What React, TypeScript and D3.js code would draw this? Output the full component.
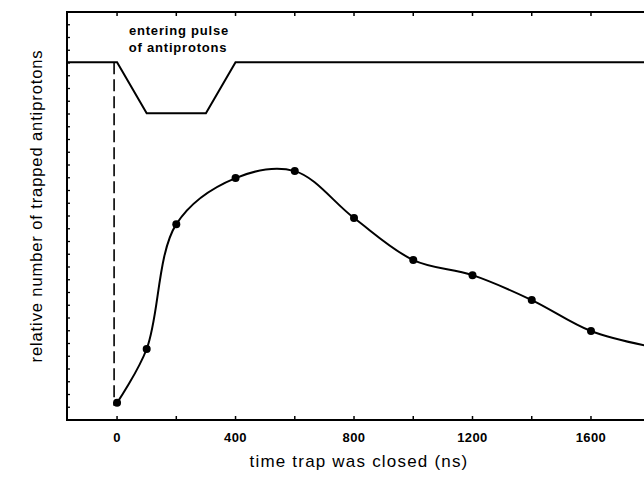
import React from 'react';
import * as d3 from 'd3';

// measured points: time the trap was closed (ns) vs relative number trapped
const closeTimes = [0, 100, 200, 400, 600, 800, 1000, 1200, 1400, 1600];
const trapped = [4.2, 17.4, 48.0, 59.3, 61.0, 49.5, 39.2, 35.5, 29.4, 21.8];
// smooth curve continues past last point
const tailTimes = [1800];
const tailValues = [18.0];

// entering antiproton pulse shape (drawn on same axes)
const pulseTimes = [-170, 0, 100, 300, 400, 1800];
const pulseValues = [87.7, 87.7, 75.2, 75.2, 87.7, 87.7];

const xTickValues = [0, 200, 400, 600, 800, 1000, 1200, 1400, 1600];
const xTickLabels = ['0', '', '400', '', '800', '', '1200', '', '1600'];

const W = 644;
const H = 483;
const left = 67;
const top = 12;
const bottom = 420;

const App: React.FC = () => {
  const x = d3.scaleLinear().domain([-169, 1779]).range([left, W]);
  const y = d3.scaleLinear().domain([0, 100]).range([bottom, top]);

  const curvePts: [number, number][] = closeTimes
    .map((t, i) => [t, trapped[i]] as [number, number])
    .concat(tailTimes.map((t, i) => [t, tailValues[i]] as [number, number]));

  const line = d3.line<[number, number]>()
    .x(d => x(d[0]))
    .y(d => y(d[1]))
    .curve(d3.curveCatmullRom.alpha(0.5));

  const pulseLine = d3.line<[number, number]>()
    .x(d => x(d[0]))
    .y(d => y(d[1]));
  const pulsePts = pulseTimes.map((t, i) => [t, pulseValues[i]] as [number, number]);

  // minor ticks on the left axis
  const yTicks = d3.range(3.125, 100, 3.125);

  const font = "'Liberation Sans', Arial, sans-serif";

  return (
    <svg width={W} height={H} style={{ position: 'absolute', left: 0, top: 0, background: '#fff' }}>
      <defs>
        <clipPath id="plot">
          <rect x={left} y={top} width={W - left + 20} height={bottom - top} />
        </clipPath>
      </defs>

      {/* frame */}
      <line x1={left} x2={W} y1={top} y2={top} stroke="#000" strokeWidth={2} />
      <line x1={left} x2={W} y1={bottom} y2={bottom} stroke="#000" strokeWidth={2} />
      <line x1={left} x2={left} y1={top - 1} y2={bottom + 1} stroke="#000" strokeWidth={2} />

      {/* x ticks, bottom and top, pointing inward */}
      {xTickValues.map(t => (
        <g key={t}>
          <line x1={x(t)} x2={x(t)} y1={bottom} y2={bottom - 4} stroke="#000" strokeWidth={1.5} />
          <line x1={x(t)} x2={x(t)} y1={top} y2={top + 4} stroke="#000" strokeWidth={1.5} />
        </g>
      ))}
      {xTickValues.map((t, i) => xTickLabels[i] ? (
        <text key={'l' + t} x={x(t)} y={442} textAnchor="middle" fontFamily={font}
          fontSize={13} fontWeight="bold" letterSpacing={0.4}>{xTickLabels[i]}</text>
      ) : null)}

      {/* y minor ticks */}
      {yTicks.map(v => (
        <line key={v} x1={left} x2={left + 3} y1={y(v)} y2={y(v)} stroke="#000" strokeWidth={1.3} />
      ))}

      <g clipPath="url(#plot)">
        {/* dashed marker at trap closing reference */}
        <line x1={x(-10)} x2={x(-10)} y1={y(87.7)} y2={y(3.5)} stroke="#000"
          strokeWidth={1.6} strokeDasharray="12,5" />
        <path d={pulseLine(pulsePts) || ''} fill="none" stroke="#000" strokeWidth={2} />
        <path d={line(curvePts) || ''} fill="none" stroke="#000" strokeWidth={2} />
        {closeTimes.map((t, i) => (
          <circle key={t} cx={x(t)} cy={y(trapped[i])} r={4} fill="#000" />
        ))}
      </g>

      <text x={179} y={35} textAnchor="middle" fontFamily={font} fontSize={13}
        fontWeight="bold" letterSpacing={0.8}>entering pulse</text>
      <text x={178} y={52} textAnchor="middle" fontFamily={font} fontSize={13}
        fontWeight="bold" letterSpacing={0.8}>of antiprotons</text>

      <text x={359} y={467} textAnchor="middle" fontFamily={font} fontSize={17}
        letterSpacing={1.2}>time trap was closed (ns)</text>
      <text transform={`translate(42,206) rotate(-90)`} textAnchor="middle"
        fontFamily={font} fontSize={16.5} letterSpacing={0.9}>relative number of trapped antiprotons</text>
    </svg>
  );
};

export default App;
